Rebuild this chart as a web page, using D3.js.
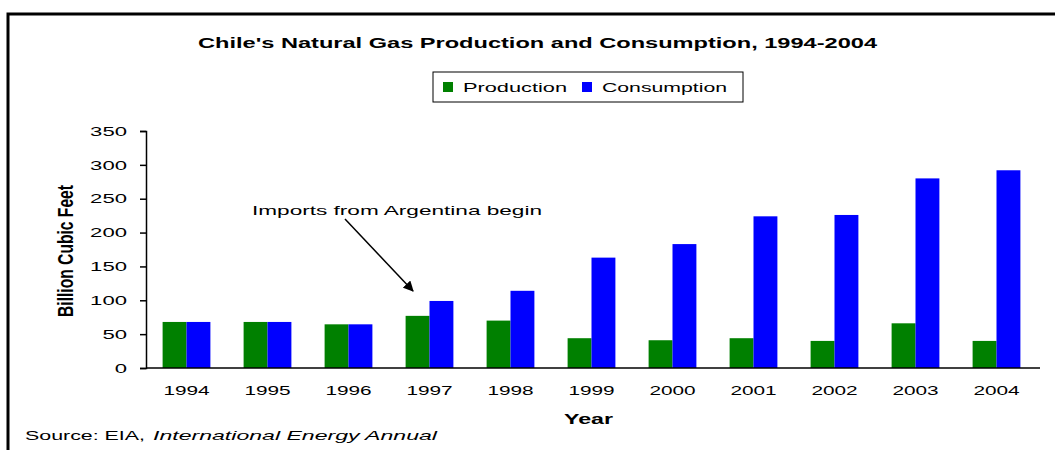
<!DOCTYPE html>
<html>
<head>
<meta charset="utf-8">
<script src="https://cdn.jsdelivr.net/npm/d3@7"></script>
<style>
  body { margin: 0; background: #fff; }
  text { font-family: "Liberation Sans", Arial, sans-serif; fill: #000; }
</style>
</head>
<body>
<div id="chart"></div>
<script>
// Chart values
const years = ["1994", "1995", "1996", "1997", "1998", "1999", "2000", "2001", "2002", "2003", "2004"];
const production = [68, 68, 64.5, 77, 70, 44, 41, 44, 40, 66, 40];
const consumption = [68, 68, 64.5, 99, 114, 163, 183, 224, 226, 280, 292];
const yTicks = [0, 50, 100, 150, 200, 250, 300, 350];
const seriesNames = ["Production", "Consumption"];
const seriesColors = ["#008000", "#0000ff"];

const width = 1055, height = 450;

// the original picture is stretched sideways, so text is widened to match
function stretch(sel, k) {
    sel.each(function () {
        const w = this.getComputedTextLength();
        d3.select(this).attr("textLength", w * k).attr("lengthAdjust", "spacingAndGlyphs");
    });
}

const svg = d3.select("#chart")
    .append("svg")
    .attr("width", width)
    .attr("height", height);

svg.append("rect").attr("width", width).attr("height", height).attr("fill", "#fff");

// Outer frame (only top and left are visible)
svg.append("path")
    .attr("d", "M8,450V14H1055")
    .attr("fill", "none")
    .attr("stroke", "#000")
    .attr("stroke-width", 3);

// Scales
const x = d3.scaleBand()
    .domain(years)
    .range([146, 1037])
    .paddingInner(0.41)
    .paddingOuter(0.205);

const xSub = d3.scaleBand()
    .domain(seriesNames)
    .range([0, x.bandwidth()]);

const y = d3.scaleLinear()
    .domain([0, 350])
    .range([368, 131]);

const color = d3.scaleOrdinal().domain(seriesNames).range(seriesColors);

// Title
svg.append("text")
    .attr("x", 537.5)
    .attr("y", 48)
    .attr("text-anchor", "middle")
    .style("font-size", "14px")
    .style("font-weight", "bold")
    .attr("textLength", 679)
    .attr("lengthAdjust", "spacingAndGlyphs")
    .text("Chile's Natural Gas Production and Consumption, 1994-2004");

// Legend
const legend = svg.append("g");
legend.append("rect")
    .attr("x", 433).attr("y", 72)
    .attr("width", 310).attr("height", 30)
    .attr("fill", "#fff")
    .attr("stroke", "#000")
    .attr("stroke-width", 1);

const legendX = [443, 582];
const legendLen = [104, 125];
seriesNames.forEach((name, i) => {
    legend.append("rect")
        .attr("x", legendX[i]).attr("y", 82)
        .attr("width", 10).attr("height", 10)
        .attr("fill", color(name));
    legend.append("text")
        .attr("x", legendX[i] + 20)
        .attr("y", 92)
        .style("font-size", "13px")
        .attr("textLength", legendLen[i])
        .attr("lengthAdjust", "spacingAndGlyphs")
        .text(name);
});

// Y axis
const yAxis = svg.append("g")
    .attr("transform", "translate(146,0)")
    .call(d3.axisLeft(y).tickValues(yTicks).tickSize(6).tickPadding(13));
yAxis.select(".domain").attr("stroke", "#000").attr("stroke-width", 1.5);
yAxis.selectAll(".tick line").attr("stroke", "#000").attr("stroke-width", 1.5);
yAxis.selectAll("text")
    .style("font-size", "13px")
    .style("font-family", "Liberation Sans, Arial, sans-serif")
    .attr("fill", "#000")
    .call(stretch, 1.7);

// Y axis label
svg.append("text")
    .attr("transform", "translate(73,251) scale(1.6,1) rotate(-90)")
    .attr("text-anchor", "middle")
    .style("font-size", "14px")
    .style("font-weight", "bold")
    .attr("textLength", 132)
    .attr("lengthAdjust", "spacingAndGlyphs")
    .text("Billion Cubic Feet");

// Bars
const groups = svg.selectAll(".year")
    .data(years.map((yr, i) => ({ year: yr, values: [production[i], consumption[i]] })))
    .enter().append("g")
    .attr("class", "year")
    .attr("transform", d => `translate(${x(d.year)},0)`);

groups.selectAll("rect")
    .data(d => d.values.map((v, j) => ({ key: seriesNames[j], value: v })))
    .enter().append("rect")
    .attr("x", d => xSub(d.key))
    .attr("y", d => y(d.value))
    .attr("width", xSub.bandwidth())
    .attr("height", d => y(0) - y(d.value))
    .attr("fill", d => color(d.key));

// X axis
const xAxis = svg.append("g")
    .attr("transform", "translate(0,368)")
    .call(d3.axisBottom(x).tickSize(0));
xAxis.select(".domain").remove();
xAxis.selectAll("text")
    .attr("y", 27)
    .attr("dy", null)
    .style("font-size", "13px")
    .style("font-family", "Liberation Sans, Arial, sans-serif")
    .attr("fill", "#000")
    .call(stretch, 1.6);

svg.append("line")
    .attr("x1", 146).attr("x2", 1040)
    .attr("y1", y(0)).attr("y2", y(0))
    .attr("stroke", "#000")
    .attr("stroke-width", 1.5);

// X axis label
svg.append("text")
    .attr("x", 564)
    .attr("y", 424)
    .style("font-size", "14px")
    .style("font-weight", "bold")
    .attr("textLength", 49)
    .attr("lengthAdjust", "spacingAndGlyphs")
    .text("Year");

// Annotation with arrow
svg.append("defs").append("marker")
    .attr("id", "arrow")
    .attr("viewBox", "0 0 10 10")
    .attr("refX", 9).attr("refY", 5)
    .attr("markerWidth", 7).attr("markerHeight", 7)
    .attr("markerUnits", "strokeWidth")
    .attr("orient", "auto")
    .append("path")
    .attr("d", "M0,0L10,5L0,10z")
    .attr("fill", "#000");

svg.append("text")
    .attr("x", 252)
    .attr("y", 215)
    .style("font-size", "13px")
    .attr("textLength", 290)
    .attr("lengthAdjust", "spacingAndGlyphs")
    .text("Imports from Argentina begin");

svg.append("line")
    .attr("x1", 345).attr("y1", 219)
    .attr("x2", 413).attr("y2", 291)
    .attr("stroke", "#000")
    .attr("stroke-width", 1.5)
    .attr("marker-end", "url(#arrow)");

// Source note
svg.append("text")
    .attr("x", 25)
    .attr("y", 440)
    .style("font-size", "13px")
    .attr("textLength", 120)
    .attr("lengthAdjust", "spacingAndGlyphs")
    .text("Source: EIA,");

svg.append("text")
    .attr("x", 153)
    .attr("y", 440)
    .style("font-size", "13px")
    .style("font-style", "italic")
    .attr("textLength", 284)
    .attr("lengthAdjust", "spacingAndGlyphs")
    .text("International Energy Annual");
</script>
</body>
</html>
